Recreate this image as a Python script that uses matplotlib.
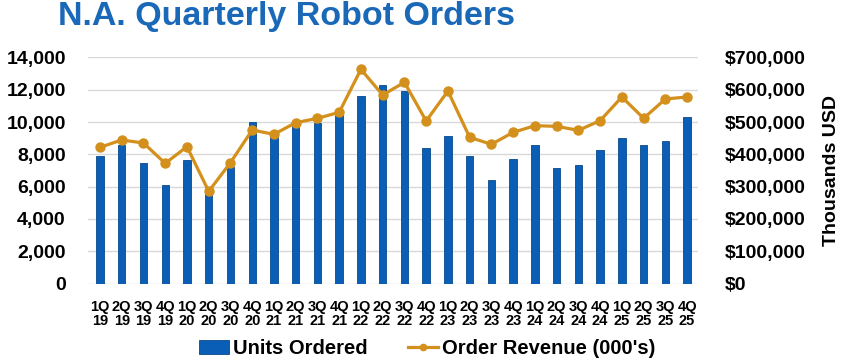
import numpy as np
import matplotlib.pyplot as plt
from matplotlib.ticker import FuncFormatter

quarters = ['1Q\n19', '2Q\n19', '3Q\n19', '4Q\n19', '1Q\n20', '2Q\n20', '3Q\n20', '4Q\n20',
            '1Q\n21', '2Q\n21', '3Q\n21', '4Q\n21', '1Q\n22', '2Q\n22', '3Q\n22', '4Q\n22',
            '1Q\n23', '2Q\n23', '3Q\n23', '4Q\n23', '1Q\n24', '2Q\n24', '3Q\n24', '4Q\n24',
            '1Q\n25', '2Q\n25', '3Q\n25', '4Q\n25']
units = [7900, 8560, 7440, 6080, 7630, 5590, 7240, 9990,
         9140, 9760, 9920, 10440, 11630, 12300, 11900, 8370,
         9160, 7900, 6410, 7690, 8560, 7140, 7340, 8290,
         9030, 8560, 8850, 10310]
revenue = [421800, 444500, 435200, 372200, 423800, 285500, 374300, 475400,
           462000, 498200, 511500, 530200, 663300, 583800, 623100, 503300,
           596200, 452700, 431100, 468200, 488800, 486800, 474400, 504400,
           577700, 511600, 571500, 577700]

plt.rcParams['font.family'] = ['Liberation Sans', 'DejaVu Sans']
plt.rcParams['font.weight'] = 'bold'

fig = plt.figure(figsize=(8.48, 3.6), dpi=100)
ax = fig.add_axes([0.1038, 0.2125, 0.7193, 0.6278])
ax2 = ax.twinx()

x = np.arange(len(quarters))
bars = ax.bar(x, units, width=0.34, color='#0a5eb5', edgecolor='#08498c',
              linewidth=0.6, label='Units Ordered', zorder=2)
line, = ax2.plot(x, revenue, color='#d4901c', linewidth=2.3, marker='o',
                 markersize=6.5, label="Order Revenue (000's)", zorder=3)

ax.set_xlim(-0.55, 27.5)
ax.set_ylim(0, 14000)
ax2.set_ylim(0, 700000)
ax.set_yticks(np.arange(0, 14001, 2000))
ax2.set_yticks(np.arange(0, 700001, 100000))
ax.yaxis.set_major_formatter(FuncFormatter(lambda v, p: f'{int(v):,}'))
ax2.yaxis.set_major_formatter(FuncFormatter(lambda v, p: f'${int(v):,}'))
ax.set_xticks(x)
ax.set_xticklabels(quarters, fontsize=10.5, linespacing=1.0)

ax.grid(axis='y', color='#d9d9d9', linewidth=1.0, zorder=0)
ax.set_axisbelow(True)
for a in (ax, ax2):
    for s in a.spines.values():
        s.set_visible(False)
    a.tick_params(length=0)
ax.tick_params(axis='y', labelsize=14, pad=16)
ax.tick_params(axis='x', pad=12)
ax2.tick_params(axis='y', labelsize=14, pad=19)
ax2.set_ylabel('Thousands USD', fontsize=14, weight='bold')
ax2.yaxis.set_label_coords(1.205, 0.5)
ax2.set_zorder(ax.get_zorder() + 1)
ax2.patch.set_visible(False)

fig.text(0.068, 0.93, 'N.A. Quarterly Robot Orders', fontsize=24.5, color='#1a68b8',
         weight='bold', va='baseline')

leg = fig.legend([bars, line], ['Units Ordered', "Order Revenue (000's)"], loc='center',
                 bbox_to_anchor=(0.504, 0.033), ncol=2, frameon=False, fontsize=14.5,
                 handlelength=1.5, handletextpad=0.2, columnspacing=2.0)
leg.legend_handles[1].set_markersize(4.5)

fig.savefig('out.png', dpi=100)
